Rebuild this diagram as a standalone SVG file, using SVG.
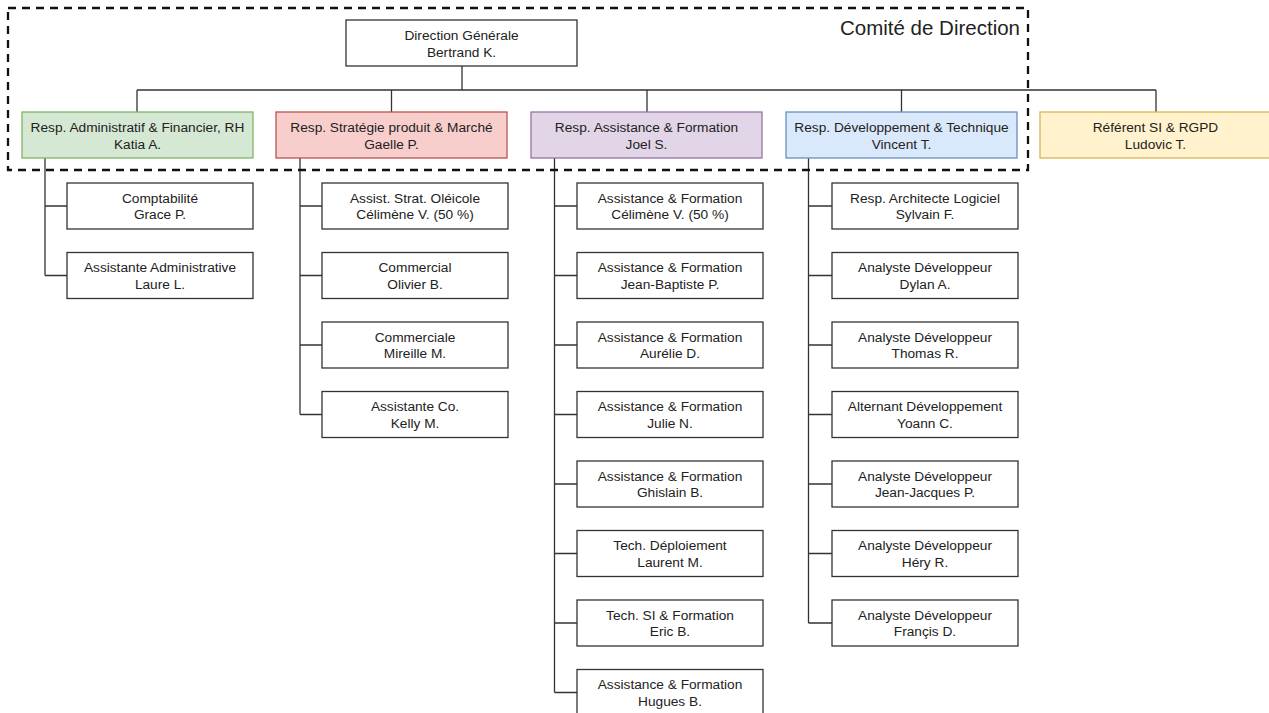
<svg xmlns="http://www.w3.org/2000/svg" width="1269" height="713" viewBox="0 0 1269 713">
<style>
.bg{fill:#ffffff}
.box{fill:#ffffff;stroke:#333333;stroke-width:1.3}
.g{fill:#d5e8d4;stroke:#82b366;stroke-width:1.3}
.r{fill:#f8cecc;stroke:#b85450;stroke-width:1.3}
.p{fill:#e1d5e7;stroke:#9673a6;stroke-width:1.3}
.b{fill:#dae8fc;stroke:#6c8ebf;stroke-width:1.3}
.y{fill:#fff2cc;stroke:#d6b656;stroke-width:1.3}
.t{font-family:"Liberation Sans",Arial,Helvetica,sans-serif;font-size:13.7px;fill:#222222;text-anchor:middle}
.title{font-family:"Liberation Sans",Arial,Helvetica,sans-serif;font-size:20.5px;fill:#222222;text-anchor:end}
.ln{fill:none;stroke:#333333;stroke-width:1.3}
.dash{fill:none;stroke:#111111;stroke-width:2.3;stroke-dasharray:8 6}
</style>
<rect class="bg" x="0" y="0" width="1269" height="713"/>

<g id="connectors">
<path class="ln" d="M462 66 V90 M137 90 H1156 M137 90 V112 M391.5 90 V112 M647 90 V112 M901.5 90 V112 M1156 90 V112"/>
<path class="ln" d="M45 158 V275.5 M45 206 H67 M45 275.5 H67"/>
<path class="ln" d="M300 158 V414.5 M300 206 H322 M300 275.5 H322 M300 345 H322 M300 414.5 H322"/>
<path class="ln" d="M554.5 158 V692.5 M554.5 206 H577 M554.5 275.5 H577 M554.5 345 H577 M554.5 414.5 H577 M554.5 484 H577 M554.5 553.5 H577 M554.5 623 H577 M554.5 692.5 H577"/>
<path class="ln" d="M808.5 158 V623 M808.5 206 H832 M808.5 275.5 H832 M808.5 345 H832 M808.5 414.5 H832 M808.5 484 H832 M808.5 553.5 H832 M808.5 623 H832"/>
</g>

<g id="comite">
<rect class="dash" x="8" y="8" width="1020" height="162"/>
<text class="title" x="1020" y="35">Comité de Direction</text>
</g>

<g id="dg"><rect class="box" x="346" y="20" width="231" height="46"/><text class="t" x="461.5" y="40">Direction Générale</text><text class="t" x="461.5" y="56.5">Bertrand K.</text></g>

<g id="admin"><rect class="g" x="22" y="112" width="231" height="46"/><text class="t" x="137.5" y="132">Resp. Administratif &amp; Financier, RH</text><text class="t" x="137.5" y="148.5">Katia A.</text></g>
<g id="strat"><rect class="r" x="276" y="112" width="231" height="46"/><text class="t" x="391.5" y="132">Resp. Stratégie produit &amp; Marché</text><text class="t" x="391.5" y="148.5">Gaelle P.</text></g>
<g id="assist"><rect class="p" x="531" y="112" width="231" height="46"/><text class="t" x="646.5" y="132">Resp. Assistance &amp; Formation</text><text class="t" x="646.5" y="148.5">Joel S.</text></g>
<g id="dev"><rect class="b" x="786" y="112" width="231" height="46"/><text class="t" x="901.5" y="132">Resp. Développement &amp; Technique</text><text class="t" x="901.5" y="148.5">Vincent T.</text></g>
<g id="rgpd"><rect class="y" x="1040" y="112" width="231" height="46"/><text class="t" x="1155.5" y="132">Référent SI &amp; RGPD</text><text class="t" x="1155.5" y="148.5">Ludovic T.</text></g>

<g id="a1"><rect class="box" x="67" y="183" width="186" height="46"/><text class="t" x="160" y="202.5">Comptabilité</text><text class="t" x="160" y="219">Grace P.</text></g>
<g id="a2"><rect class="box" x="67" y="252.5" width="186" height="46"/><text class="t" x="160" y="272">Assistante Administrative</text><text class="t" x="160" y="288.5">Laure L.</text></g>

<g id="s1"><rect class="box" x="322" y="183" width="186" height="46"/><text class="t" x="415" y="202.5">Assist. Strat. Oléicole</text><text class="t" x="415" y="219">Célimène V. (50 %)</text></g>
<g id="s2"><rect class="box" x="322" y="252.5" width="186" height="46"/><text class="t" x="415" y="272">Commercial</text><text class="t" x="415" y="288.5">Olivier B.</text></g>
<g id="s3"><rect class="box" x="322" y="322" width="186" height="46"/><text class="t" x="415" y="341.5">Commerciale</text><text class="t" x="415" y="358">Mireille M.</text></g>
<g id="s4"><rect class="box" x="322" y="391.5" width="186" height="46"/><text class="t" x="415" y="411">Assistante Co.</text><text class="t" x="415" y="427.5">Kelly M.</text></g>

<g id="f1"><rect class="box" x="577" y="183" width="186" height="46"/><text class="t" x="670" y="202.5">Assistance &amp; Formation</text><text class="t" x="670" y="219">Célimène V. (50 %)</text></g>
<g id="f2"><rect class="box" x="577" y="252.5" width="186" height="46"/><text class="t" x="670" y="272">Assistance &amp; Formation</text><text class="t" x="670" y="288.5">Jean-Baptiste P.</text></g>
<g id="f3"><rect class="box" x="577" y="322" width="186" height="46"/><text class="t" x="670" y="341.5">Assistance &amp; Formation</text><text class="t" x="670" y="358">Aurélie D.</text></g>
<g id="f4"><rect class="box" x="577" y="391.5" width="186" height="46"/><text class="t" x="670" y="411">Assistance &amp; Formation</text><text class="t" x="670" y="427.5">Julie N.</text></g>
<g id="f5"><rect class="box" x="577" y="461" width="186" height="46"/><text class="t" x="670" y="480.5">Assistance &amp; Formation</text><text class="t" x="670" y="497">Ghislain B.</text></g>
<g id="f6"><rect class="box" x="577" y="530.5" width="186" height="46"/><text class="t" x="670" y="550">Tech. Déploiement</text><text class="t" x="670" y="566.5">Laurent M.</text></g>
<g id="f7"><rect class="box" x="577" y="600" width="186" height="46"/><text class="t" x="670" y="619.5">Tech. SI &amp; Formation</text><text class="t" x="670" y="636">Eric B.</text></g>
<g id="f8"><rect class="box" x="577" y="669.5" width="186" height="46"/><text class="t" x="670" y="689">Assistance &amp; Formation</text><text class="t" x="670" y="705.5">Hugues B.</text></g>

<g id="d1"><rect class="box" x="832" y="183" width="186" height="46"/><text class="t" x="925" y="202.5">Resp. Architecte Logiciel</text><text class="t" x="925" y="219">Sylvain F.</text></g>
<g id="d2"><rect class="box" x="832" y="252.5" width="186" height="46"/><text class="t" x="925" y="272">Analyste Développeur</text><text class="t" x="925" y="288.5">Dylan A.</text></g>
<g id="d3"><rect class="box" x="832" y="322" width="186" height="46"/><text class="t" x="925" y="341.5">Analyste Développeur</text><text class="t" x="925" y="358">Thomas R.</text></g>
<g id="d4"><rect class="box" x="832" y="391.5" width="186" height="46"/><text class="t" x="925" y="411">Alternant Développement</text><text class="t" x="925" y="427.5">Yoann C.</text></g>
<g id="d5"><rect class="box" x="832" y="461" width="186" height="46"/><text class="t" x="925" y="480.5">Analyste Développeur</text><text class="t" x="925" y="497">Jean-Jacques P.</text></g>
<g id="d6"><rect class="box" x="832" y="530.5" width="186" height="46"/><text class="t" x="925" y="550">Analyste Développeur</text><text class="t" x="925" y="566.5">Héry R.</text></g>
<g id="d7"><rect class="box" x="832" y="600" width="186" height="46"/><text class="t" x="925" y="619.5">Analyste Développeur</text><text class="t" x="925" y="636">Françis D.</text></g>
</svg>
